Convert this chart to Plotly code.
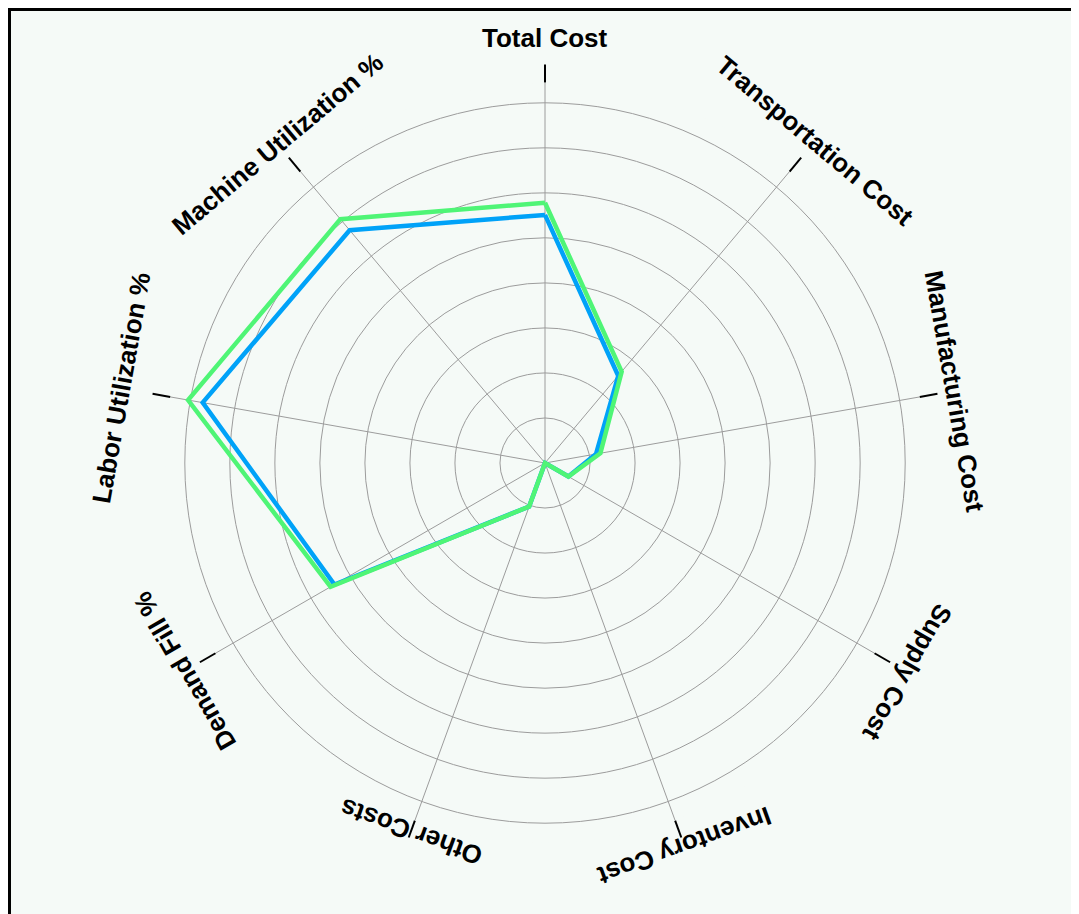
import math
import plotly.graph_objects as go

# Radar axes, clockwise from the top
categories = [
    "Total Cost",
    "Transportation Cost",
    "Manufacturing Cost",
    "Supply Cost",
    "Inventory Cost",
    "Other Costs",
    "Demand Fill %",
    "Labor Utilization %",
    "Machine Utilization %",
]

# values (one grid ring = 1 unit)
blue_values = [5.51, 2.53, 1.15, 0.6, 0.0, 1.03, 5.4, 7.72, 6.75]
green_values = [5.78, 2.65, 1.25, 0.6, 0.0, 1.03, 5.5, 8.05, 7.07]

ring_values = [1, 2, 3, 4, 5, 6, 7, 8]

# page has an 8px body margin, so the figure is shrunk and shifted by that
PAD = 8
W, H = 1079 - PAD, 914 - PAD
CX, CY = 545 - PAD, 463 - PAD   # centre of the radar in figure pixels
R_PX = 380                      # radius of the polar domain in pixels
R_MAX = 8.44                    # radial value at the domain edge
# distance of each axis label from the centre (px)
label_r = [425, 420, 416, 419, 407, 392, 416, 430, 416]

BG = "#f5faf7"
GRID = "#9c9c9c"
FONT = "Liberation Sans, Arial, sans-serif"


def closed(vals):
    return list(vals) + [vals[0]]


fig = go.Figure()

fig.add_trace(go.Scatterpolar(
    r=closed(blue_values),
    theta=closed(categories),
    mode="lines",
    line=dict(color="#00a2f8", width=4.5),
    name="Blue",
    showlegend=False,
))
fig.add_trace(go.Scatterpolar(
    r=closed(green_values),
    theta=closed(categories),
    mode="lines",
    line=dict(color="#4ff576", width=4.5),
    name="Green",
    showlegend=False,
))

# axis labels, rotated along the circle
annotations = []
step = 360 / len(categories)
for i, name in enumerate(categories):
    ang = math.radians(90 - step * i)
    x = CX + label_r[i] * math.cos(ang)
    y = CY - label_r[i] * math.sin(ang)
    rot = (step * i + 180) % 360 - 180
    annotations.append(dict(
        x=x / W, y=1 - y / H, xref="paper", yref="paper",
        text=f"<b>{name}</b>", showarrow=False,
        xanchor="center", yanchor="middle",
        textangle=rot,
        font=dict(family=FONT, size=26, color="black"),
    ))

fig.update_layout(
    width=W,
    height=H,
    margin=dict(l=0, r=0, t=0, b=0),
    paper_bgcolor=BG,
    plot_bgcolor=BG,
    polar=dict(
        domain=dict(
            x=[(CX - R_PX) / W, (CX + R_PX) / W],
            y=[1 - (CY + R_PX) / H, 1 - (CY - R_PX) / H],
        ),
        bgcolor=BG,
        radialaxis=dict(
            range=[0, R_MAX],
            tickvals=ring_values,
            showticklabels=False,
            ticks="",
            showline=False,
            gridcolor=GRID,
            gridwidth=1.4,
        ),
        angularaxis=dict(
            rotation=90,
            direction="clockwise",
            categoryorder="array",
            categoryarray=categories,
            showticklabels=False,
            showline=False,
            ticks="outside",
            ticklen=18,
            tickwidth=1.5,
            tickcolor="black",
            gridcolor=GRID,
            gridwidth=1.4,
        ),
    ),
    annotations=annotations,
    shapes=[
        dict(type="line", xref="paper", yref="paper",
             x0=0, x1=1, y0=1 - 1.5 / H, y1=1 - 1.5 / H,
             line=dict(color="black", width=3)),
        dict(type="line", xref="paper", yref="paper",
             x0=1.5 / W, x1=1.5 / W, y0=0, y1=1,
             line=dict(color="black", width=3)),
    ],
)

fig.write_html("out.html")
